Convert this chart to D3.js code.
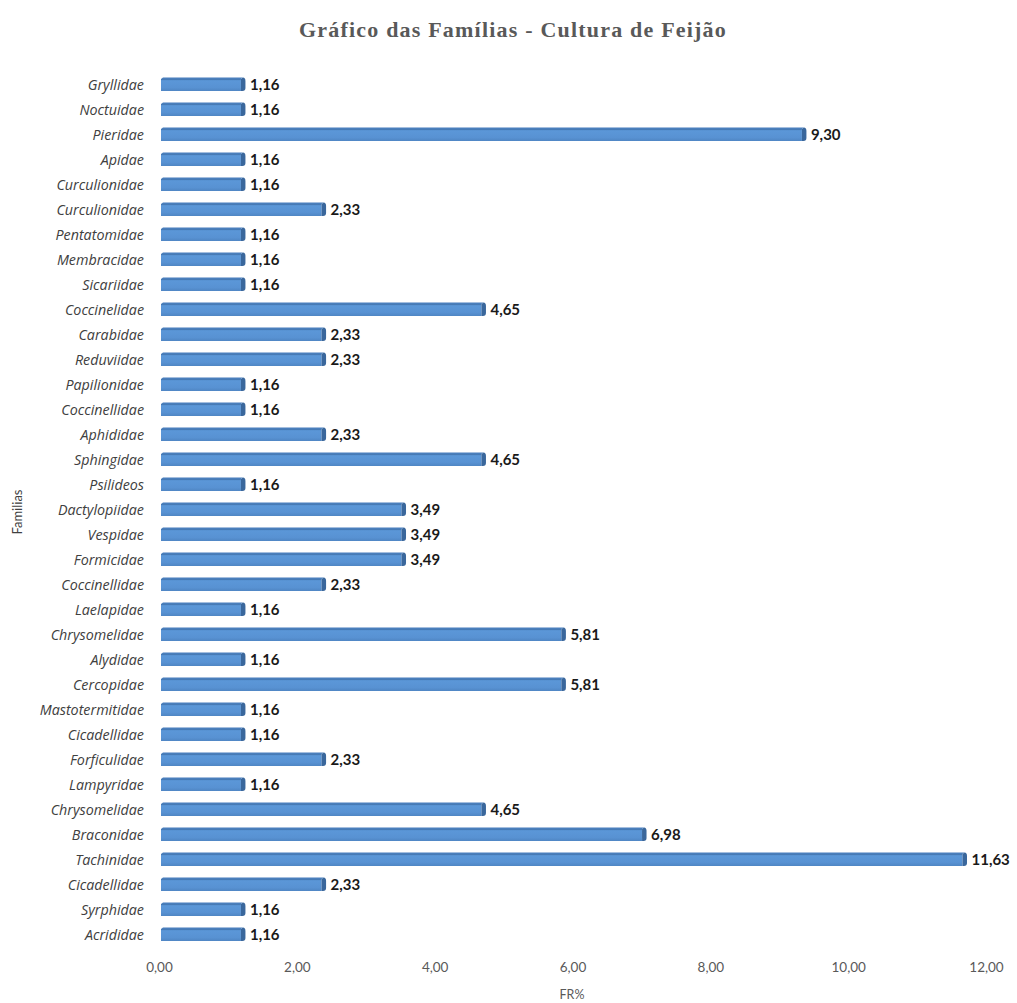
<!DOCTYPE html>
<html><head><meta charset="utf-8">
<script src="https://cdn.jsdelivr.net/npm/d3@7"></script>
<style>
html,body{margin:0;padding:0;background:#fff;}
</style></head>
<body>
<svg id="chart" width="1017" height="1003"></svg>
<script>
const categories = ["Gryllidae","Noctuidae","Pieridae","Apidae","Curculionidae","Curculionidae","Pentatomidae","Membracidae","Sicariidae","Coccinelidae","Carabidae","Reduviidae","Papilionidae","Coccinellidae","Aphididae","Sphingidae","Psilideos","Dactylopiidae","Vespidae","Formicidae","Coccinellidae","Laelapidae","Chrysomelidae","Alydidae","Cercopidae","Mastotermitidae","Cicadellidae","Forficulidae","Lampyridae","Chrysomelidae","Braconidae","Tachinidae","Cicadellidae","Syrphidae","Acrididae"];
const values = [1.16,1.16,9.30,1.16,1.16,2.33,1.16,1.16,1.16,4.65,2.33,2.33,1.16,1.16,2.33,4.65,1.16,3.49,3.49,3.49,2.33,1.16,5.81,1.16,5.81,1.16,1.16,2.33,1.16,4.65,6.98,11.63,2.33,1.16,1.16];
const xTicks = [0,2,4,6,8,10,12];
const title = "Gráfico das Famílias - Cultura de Feijão";
const xTitle = "FR%";
const yTitle = "Familias";

const svg = d3.select("#chart");
const fmt = v => d3.format(".2f")(v).replace(".", ",");

const x = d3.scaleLinear().domain([0,12]).range([161, 988]);
const idx = d3.range(categories.length);
const y = d3.scaleBand().domain(idx).range([72.5, 947.5]).paddingInner(0.52).paddingOuter(0.26);

const defs = svg.append("defs");
const g = defs.append("linearGradient").attr("id","barGrad").attr("x1",0).attr("x2",0).attr("y1",0).attr("y2",1);
g.append("stop").attr("offset","0%").attr("stop-color","#3e6ea6");
g.append("stop").attr("offset","14%").attr("stop-color","#5b97d8");
g.append("stop").attr("offset","70%").attr("stop-color","#5892d3");
g.append("stop").attr("offset","100%").attr("stop-color","#4f86c4");

svg.append("text").attr("x", 513).attr("y", 37).attr("text-anchor","middle")
  .attr("font-family","'Liberation Serif','DejaVu Serif',serif").attr("font-weight","bold")
  .attr("font-size", 22).attr("letter-spacing", 1.2).attr("fill","#595959").text(title);

// Bars
const bars = svg.append("g");
const bh = y.bandwidth();
bars.selectAll("rect.bar").data(idx).join("rect").attr("class","bar")
  .attr("x", x(0)).attr("y", i => y(i)).attr("width", i => x(values[i]) - x(0)).attr("height", bh)
  .attr("fill","url(#barGrad)");
// 3D right caps
bars.selectAll("path.cap").data(idx).join("path").attr("class","cap")
  .attr("d", i => {
    const x0 = x(values[i]), y0 = y(i);
    return `M${x0},${y0} L${x0+2},${y0-1.5} Q${x0+4.5},${y0-1.5} ${x0+4.5},${y0+2} L${x0+4.5},${y0+bh-3} Q${x0+4.5},${y0+bh} ${x0+1.5},${y0+bh} L${x0},${y0+bh} Z`;
  })
  .attr("fill","#3a679c");
// top edge
bars.selectAll("path.top").data(idx).join("path").attr("class","top")
  .attr("d", i => `M${x(0)},${y(i)} L${x(0)+2},${y(i)-1.5} L${x(values[i])+2},${y(i)-1.5} L${x(values[i])},${y(i)} Z`)
  .attr("fill","#4a7fbd");

// value labels
svg.append("g").selectAll("text").data(idx).join("text")
  .attr("x", i => x(values[i]) + 9).attr("y", i => y(i) + bh/2 + 5)
  .attr("font-family","Lato,'Open Sans',sans-serif").attr("font-weight","bold").attr("font-size", 15)
  .attr("fill","#1a1a1a").text(i => fmt(values[i]));

// Y axis (category labels)
const yAxis = d3.axisLeft(y).tickSize(0).tickPadding(0).tickFormat(i => categories[i]);
const ya = svg.append("g").attr("transform", `translate(144,0)`).call(yAxis);
ya.select(".domain").remove();
ya.selectAll("text").attr("font-family","'Open Sans',Lato,sans-serif").attr("font-style","italic")
  .attr("font-size", 14.3).attr("fill","#404040").attr("dy","0.35em");

// X axis
const xAxis = d3.axisBottom(x).tickValues(xTicks).tickSize(0).tickPadding(0).tickFormat(fmt);
const xa = svg.append("g").attr("transform", `translate(-2,962)`).call(xAxis);
xa.select(".domain").remove();
xa.selectAll("text").attr("font-family","Lato,'Open Sans',sans-serif")
  .attr("font-size", 13.5).attr("fill","#595959");

svg.append("text").attr("x", 572).attr("y", 999).attr("text-anchor","middle")
  .attr("font-family","Lato,'Open Sans',sans-serif").attr("font-size", 12.5).attr("fill","#595959").text(xTitle);
svg.append("text").attr("transform","translate(22,512) rotate(-90)").attr("text-anchor","middle")
  .attr("font-family","Lato,'Open Sans',sans-serif").attr("font-size", 13).attr("fill","#404040").text(yTitle);
</script>
</body></html>
